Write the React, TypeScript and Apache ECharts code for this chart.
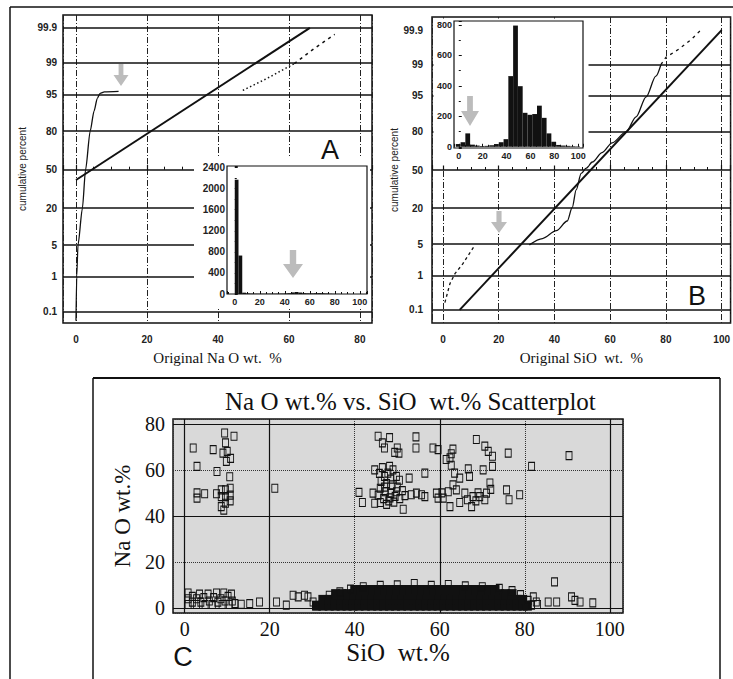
import React, { useEffect, useRef } from "react";
import * as echarts from "echarts";

// ---------------- data ----------------
const probTicks = [0.1, 1, 5, 20, 50, 80, 95, 99, 99.9];
const probGridA = [0.1, 1, 5, 20, 50, 80, 95, 99, 99.9];
const probGridB = [0.1, 1, 5, 20, 50, 80, 95, 99];

// Panel A: [Na2O wt.%, cumulative %]
const naFit = [[0, 41.1], [65.9, 99.9]];
const naCurve = [[0, 0.05], [0.2, 1], [0.56, 5], [1.8, 20], [2.7, 50], [4.0, 80], [5.1, 90], [6.0, 94], [6.8, 95.2], [8, 95.5], [12, 95.6]];
const naTailDots = [[47, 95.8], [54, 97.7], [61.5, 98.96]];
const naTailDash = [[61.5, 98.96], [64, 99.3], [67.2, 99.59], [70, 99.74], [72.9, 99.84]];

// Panel B: [SiO2 wt.%, cumulative %]
const siFit = [[6, 0.1], [100, 99.9]];
const siTailLow = [[0.7, 0.17], [2.5, 0.6], [4.3, 1.1], [7.1, 1.9], [11.4, 4.8]];
const siCurve = [[31, 4.9], [35.7, 6.5], [40.7, 9], [44.6, 13], [46.4, 20.5], [47.8, 33], [49.6, 47], [51.4, 51.6], [53.6, 57], [57.1, 65], [60.7, 72.6], [65.7, 80], [69.3, 88], [72.9, 94.7], [76.4, 98.1], [78.2, 99]];
const siTailHigh = [[78.2, 99], [80, 99.36], [84.6, 99.62], [89.3, 99.81], [92.5, 99.9]];

// Inset histograms
const histNaEdges = [0, 3, 6, 9, 12, 15, 18, 21, 24, 27, 30, 33, 36, 39, 42, 45, 48, 51, 54, 57, 60, 63, 66, 69, 72, 75, 78, 81, 84];
const histNaCounts = [2170, 730, 25, 12, 8, 6, 5, 5, 5, 6, 6, 7, 8, 10, 15, 30, 38, 28, 15, 12, 12, 15, 16, 14, 10, 6, 3, 2];
const histSiEdges = [-2.5, 1.5, 5.5, 9.5, 13.5, 17.5, 21.5, 25.5, 29.5, 33.5, 37.5, 41.5, 45.5, 49.5, 53.5, 57.5, 61.5, 65.5, 69.5, 73.5, 77.5, 81.5, 85.5, 89.5, 93.5, 97.5, 101.5];
const histSiCounts = [18, 30, 88, 14, 8, 5, 6, 10, 18, 30, 50, 464, 796, 398, 223, 210, 215, 270, 190, 88, 33, 12, 8, 6, 4, 3];

// Panel C scatter: [SiO2, Na2O]
const scatterUpperLeft = [[2.0, 69.5], [2.9, 61.5], [2.9, 50.0], [2.9, 47.7], [4.7, 49.6], [6.7, 68.8], [7.6, 59.3], [7.5, 49.6], [9.4, 76.0], [9.6, 71.7], [9.0, 67.3], [10.0, 68.0], [10.8, 65.0], [11.6, 74.6], [10.6, 57.0], [8.6, 51.3], [8.6, 48.4], [8.6, 44.0], [9.6, 51.3], [9.6, 48.4], [9.6, 45.5], [10.7, 52.0], [10.7, 49.0], [10.7, 46.5], [9.8, 63.7], [9.2, 42.5], [21.2, 52.0]];
const scatterUpperCenter = [[45.5, 74.6], [46.5, 71.7], [48.2, 74.0], [47.0, 69.5], [50.0, 69.5], [50.4, 67.3], [49.4, 67.6], [54.4, 74.3], [54.4, 69.5], [44.7, 60.0], [45.8, 58.5], [47.0, 57.2], [47.8, 58.6], [48.2, 61.5], [49.0, 60.0], [49.8, 57.2], [50.5, 55.5], [46.2, 55.0], [47.5, 54.0], [48.8, 53.5], [50.0, 52.5], [51.2, 51.0], [46.0, 52.0], [47.2, 50.5], [48.5, 49.8], [49.5, 48.5], [45.5, 49.0], [46.8, 47.5], [48.0, 46.5], [49.2, 46.0], [50.6, 47.5], [51.8, 48.8], [47.5, 45.0], [52.8, 56.4], [56.5, 58.6], [41.0, 50.2], [41.8, 45.8], [44.3, 49.9], [44.7, 45.5], [53.3, 49.2], [54.5, 49.9], [55.7, 49.2], [56.5, 48.4], [51.4, 42.9], [46.5, 61.0], [48.5, 56.0], [47.0, 52.5], [49.8, 50.5], [48.3, 47.8], [46.0, 45.8]];
const scatterUpperRight = [[58.4, 69.5], [59.6, 68.8], [62.7, 67.0], [63.1, 69.0], [62.4, 65.2], [63.5, 58.6], [64.7, 56.4], [66.7, 60.4], [67.0, 57.2], [68.6, 73.2], [70.6, 70.3], [71.4, 68.0], [72.4, 65.9], [70.2, 60.0], [72.4, 61.5], [76.1, 67.3], [71.8, 54.3], [75.7, 51.3], [76.3, 47.0], [78.8, 49.2], [81.6, 61.5], [90.4, 66.2], [59.6, 47.7], [60.8, 47.7], [62.4, 44.0], [64.7, 45.8], [67.5, 44.0], [63.1, 53.5], [63.9, 51.3], [65.9, 49.9], [67.8, 48.4], [69.4, 48.4], [70.6, 47.0], [71.0, 49.9], [59.2, 49.9], [62.0, 50.5], [66.5, 47.0], [68.5, 46.5], [69.0, 50.0], [72.0, 51.5], [60.5, 50.0], [62.7, 62.0], [61.5, 64.5]];
const scatterLowLeft = [[0.8, 1.5], [0.8, 4.0], [0.8, 6.5], [1.8, 2.5], [1.8, 5.0], [2.8, 1.5], [2.8, 4.0], [3.5, 6.0], [3.8, 2.5], [4.5, 4.5], [4.8, 1.5], [5.5, 6.0], [5.8, 3.0], [6.5, 1.5], [6.8, 4.5], [7.5, 6.5], [7.8, 2.5], [8.5, 4.0], [8.8, 1.5], [9.2, 6.5], [9.5, 3.0], [10.2, 5.0], [10.5, 1.5], [11.0, 6.0], [11.2, 3.0], [11.8, 1.9], [13.3, 1.6], [15.3, 1.9], [17.6, 2.6], [21.6, 2.6], [23.9, 1.2], [25.5, 5.5], [26.7, 4.8], [28.2, 5.5], [29.0, 4.8], [30.2, 2.6], [31.0, 1.0]];
const scatterLowRight = [[80.8, 3.3], [82.0, 4.8], [82.7, 2.6], [81.6, 1.2], [87.0, 11.3], [85.5, 2.6], [87.5, 2.6], [91.0, 4.8], [91.8, 3.3], [93.0, 2.6], [96.0, 2.2], [83.0, 1.5]];
const scatterBlobEdge = [[34, 5.5], [36.5, 7], [39, 8.2], [42, 9.2], [46, 9.8], [50, 10], [54, 10.6], [58, 9.8], [62, 10.2], [66, 9.6], [70, 9.2], [74, 8.5], [77, 7.5], [79, 5.8]];
// dense core of the low-Na2O cloud: [Na2O level, SiO2 values]
const blobRows: [number, number[]][] = [
  [1.0, [31, 32.5, 34, 35.4, 36.8, 38.2, 39.6, 41, 42.5, 44, 45.4, 46.8, 48.2, 49.6, 51, 52.5, 54, 55.4, 56.8, 58.2, 59.6, 61, 62.5, 64, 65.4, 66.8, 68.2, 69.6, 71, 72.5, 74, 75.4, 76.8, 78.2, 79.6, 80.6]],
  [3.5, [32.5, 34, 35.4, 36.8, 38.2, 39.6, 41, 42.5, 44, 45.4, 46.8, 48.2, 49.6, 51, 52.5, 54, 55.4, 56.8, 58.2, 59.6, 61, 62.5, 64, 65.4, 66.8, 68.2, 69.6, 71, 72.5, 74, 75.4, 76.8, 78.2, 79.5]],
  [6.0, [35.5, 37, 38.4, 39.8, 41.2, 42.6, 44, 45.5, 47, 48.4, 49.8, 51.2, 52.6, 54, 55.5, 57, 58.4, 59.8, 61.2, 62.6, 64, 65.5, 67, 68.4, 69.8, 71.2, 72.6, 74, 75.5, 77]],
  [7.8, [40, 41.5, 43, 44.4, 45.8, 47.2, 48.6, 50, 51.5, 53, 54.4, 55.8, 57.2, 58.6, 60, 61.5, 63, 64.4, 65.8, 67.2, 68.6, 70, 71.5, 73]],
];
const cSolidX = [0, 20, 60, 100];
const cSolidY = [0, 40, 80];

// ---------------- helpers ----------------
const SANS = '"Liberation Sans", Arial, sans-serif';
const SERIF = '"Liberation Serif", "Times New Roman", serif';
const INK = "#111";

function invNorm(p: number): number {
  const a = [-3.969683028665376e1, 2.209460984245205e2, -2.759285104469687e2, 1.38357751867269e2, -3.066479806614716e1, 2.506628277459239];
  const b = [-5.447609879822406e1, 1.615858368580409e2, -1.556989798598866e2, 6.680131188771972e1, -1.328068155288572e1];
  const c = [-7.784894002430293e-3, -3.223964580411365e-1, -2.400758277161838, -2.549732539343734, 4.374664141464968, 2.938163982698783];
  const d = [7.784695709041462e-3, 3.224671290700398e-1, 2.445134137142996, 3.754408661907416];
  const plow = 0.02425;
  if (p < plow) {
    const q = Math.sqrt(-2 * Math.log(p));
    return (((((c[0] * q + c[1]) * q + c[2]) * q + c[3]) * q + c[4]) * q + c[5]) / ((((d[0] * q + d[1]) * q + d[2]) * q + d[3]) * q + 1);
  }
  if (p > 1 - plow) {
    const q = Math.sqrt(-2 * Math.log(1 - p));
    return -(((((c[0] * q + c[1]) * q + c[2]) * q + c[3]) * q + c[4]) * q + c[5]) / ((((d[0] * q + d[1]) * q + d[2]) * q + d[3]) * q + 1);
  }
  const q = p - 0.5;
  const r = q * q;
  return ((((((a[0] * r + a[1]) * r + a[2]) * r + a[3]) * r + a[4]) * r + a[5]) * q) / (((((b[0] * r + b[1]) * r + b[2]) * r + b[3]) * r + b[4]) * r + 1);
}
const toZ = (pct: number) => invNorm(pct / 100);
const tz = (d: number[]) => [d[0], toZ(d[1])];
const probLabel = (v: number) => {
  const i = probTicks.findIndex((p) => Math.abs(toZ(p) - v) < 1e-6);
  return i >= 0 ? String(probTicks[i]) : "";
};
const histData = (edges: number[], counts: number[]) => counts.map((c, i) => [edges[i], edges[i + 1], c]);

const probYAxis = (gridIndex: number, min: number, max: number, margin: number, nameGap: number) => ({
  type: "value",
  gridIndex,
  min,
  max,
  axisLine: { show: false },
  axisTick: { show: false },
  splitLine: { show: false },
  axisLabel: {
    customValues: probTicks.map(toZ),
    formatter: (v: number) => probLabel(v),
    fontSize: 10,
    fontWeight: "bold",
    color: "#222",
    fontFamily: SANS,
    margin,
  },
  name: "cumulative percent",
  nameLocation: "middle",
  nameGap,
  nameTextStyle: { fontSize: 10, fontFamily: SANS, color: "#222" },
});

const mainXAxis = (gridIndex: number, min: number, max: number, name: string) => ({
  type: "value",
  gridIndex,
  min,
  max,
  axisLine: { show: false },
  axisTick: { show: true, inside: true, length: 5, lineStyle: { color: INK, width: 1.2 } },
  minorTick: { show: true, splitNumber: 4, length: 3, lineStyle: { color: INK, width: 1 } },
  axisLabel: { fontSize: 10, fontWeight: "bold", color: "#222", fontFamily: SANS, margin: 11 },
  splitLine: { show: true, lineStyle: { color: "#222", width: 1, type: [6, 2, 1, 2] } },
  name,
  nameLocation: "middle",
  nameGap: 27,
  nameTextStyle: { fontFamily: SERIF, fontSize: 15, color: INK },
});

const plainNum = (v: number) => String(v);

const insetXAxis = (gridIndex: number, min: number, max: number) => ({
  type: "value",
  gridIndex,
  min,
  max,
  z: 5,
  axisLine: { show: false },
  axisTick: { show: true, inside: true, length: 3, lineStyle: { color: INK } },
  minorTick: { show: true, splitNumber: 4, length: 2, lineStyle: { color: INK } },
  axisLabel: { fontSize: 9, fontWeight: "bold", color: "#222", fontFamily: SANS, margin: 3, formatter: plainNum },
  splitLine: { show: false },
});

const insetYAxis = (gridIndex: number, extra: any, fontSize: number) => ({
  type: "value",
  gridIndex,
  z: 5,
  axisLine: { show: false },
  axisTick: { show: true, inside: true, length: 3, lineStyle: { color: INK } },
  minorTick: { show: true, splitNumber: 2, length: 2, lineStyle: { color: INK } },
  axisLabel: { fontSize, fontWeight: "bold", color: "#222", fontFamily: SANS, margin: 2, formatter: plainNum },
  splitLine: { show: false },
  ...extra,
});

const histSeries = (idx: number, edges: number[], counts: number[]) => ({
  type: "custom",
  xAxisIndex: idx,
  yAxisIndex: idx,
  z: 6,
  data: histData(edges, counts),
  encode: { x: [0, 1], y: 2 },
  renderItem: (_p: any, api: any) => {
    const p0 = api.coord([api.value(0), api.value(2)]);
    const p1 = api.coord([api.value(1), 0]);
    return {
      type: "rect",
      shape: { x: p0[0], y: p0[1], width: p1[0] - p0[0], height: p1[1] - p0[1] },
      style: { fill: INK },
    };
  },
});

const arrow = (x: number, y: number, w: number, h: number) => {
  const sw = w * 0.16;
  const hy = h * 0.5;
  return {
    type: "polygon",
    x,
    y,
    z: 10,
    shape: { points: [[-sw, 0], [sw, 0], [sw, hy], [w / 2, hy], [0, h], [-w / 2, hy], [-sw, hy]] },
    style: { fill: "#bcbcbc" },
  };
};

const hLine = (x1: number, x2: number, y: number, w: number) => ({
  type: "line", z: 10, shape: { x1, y1: y, x2, y2: y }, style: { stroke: INK, lineWidth: w },
});
const vLine = (x: number, y1: number, y2: number, w: number) => ({
  type: "line", z: 10, shape: { x1: x, y1, x2: x, y2 }, style: { stroke: INK, lineWidth: w },
});

function buildOption(): any {
  const blobData: number[][] = [];
  blobRows.forEach(([y, xs]) => xs.forEach((x) => blobData.push([x, y])));
  const openData = [...scatterUpperLeft, ...scatterUpperCenter, ...scatterUpperRight, ...scatterLowLeft, ...scatterLowRight, ...scatterBlobEdge];

  const gridBase = { show: true, borderColor: INK, borderWidth: 1.5, backgroundColor: "#fff", containLabel: false };

  return {
    animation: false,
    backgroundColor: "#fff",
    title: {
      text: "Na O wt.% vs. SiO  wt.% Scatterplot",
      left: 220,
      top: 384,
      textStyle: { fontFamily: SERIF, fontSize: 25, fontWeight: "normal", color: INK },
    },
    grid: [
      { ...gridBase, left: 63, top: 15, width: 309, height: 308, z: 0 },
      { ...gridBase, borderWidth: 1.2, left: 227, top: 166, width: 140, height: 128, z: 4 },
      { ...gridBase, left: 432, top: 17, width: 300, height: 306, z: 0 },
      { ...gridBase, borderWidth: 1.2, left: 454, top: 21, width: 129, height: 127, z: 4 },
      { ...gridBase, left: 173, top: 419, width: 450, height: 194, backgroundColor: "#d9d9d9", z: 0 },
    ],
    xAxis: [
      mainXAxis(0, -3.66, 83.4, "Original Na O wt.  %"),
      insetXAxis(1, -6.2, 105.8),
      mainXAxis(2, -3.93, 103.2, "Original SiO  wt.  %"),
      insetXAxis(3, -4, 104),
      {
        type: "value",
        gridIndex: 4,
        min: -2.75,
        max: 103.1,
        axisLine: { show: false },
        axisTick: { show: false },
        axisLabel: { fontFamily: SERIF, fontSize: 20, color: INK, margin: 6 },
        splitLine: { show: true, lineStyle: { color: "#333", width: 1, type: "dotted" } },
        name: "SiO  wt.%",
        nameLocation: "middle",
        nameGap: 27,
        nameTextStyle: { fontFamily: SERIF, fontSize: 25, color: INK },
      },
    ],
    yAxis: [
      probYAxis(0, -3.34, 3.37, 6, 36),
      insetYAxis(1, { min: 0, max: 2430, interval: 400 }, 10),
      probYAxis(2, -3.38, 3.38, 9, 29),
      insetYAxis(3, { min: -8, max: 826, splitNumber: 4 }, 9),
      {
        type: "value",
        gridIndex: 4,
        min: -2.2,
        max: 82.1,
        axisLine: { show: false },
        axisTick: { show: false },
        axisLabel: { fontFamily: SERIF, fontSize: 20, color: INK, margin: 8 },
        splitLine: { show: true, lineStyle: { color: "#333", width: 1, type: "dotted" } },
        name: "Na O wt.%",
        nameLocation: "middle",
        nameGap: 34,
        nameTextStyle: { fontFamily: SERIF, fontSize: 23, color: INK },
      },
    ],
    series: [
      // Panel A
      {
        type: "line", xAxisIndex: 0, yAxisIndex: 0, z: 2, symbol: "none", data: naFit.map(tz),
        lineStyle: { color: INK, width: 2 },
        markLine: {
          silent: true, symbol: "none", z: 2, animation: false, label: { show: false },
          lineStyle: { color: INK, width: 1.6, type: "solid" },
          data: probGridA.map((p) => ({ yAxis: toZ(p) })),
        },
      },
      { type: "line", xAxisIndex: 0, yAxisIndex: 0, z: 2, symbol: "none", smooth: 0.25, smoothMonotone: "x", data: naCurve.map(tz), lineStyle: { color: INK, width: 1.3 } },
      { type: "line", xAxisIndex: 0, yAxisIndex: 0, z: 2, symbol: "none", data: naTailDots.map(tz), lineStyle: { color: INK, width: 1.5, type: [1.5, 2.5] } },
      { type: "line", xAxisIndex: 0, yAxisIndex: 0, z: 2, symbol: "none", data: naTailDash.map(tz), lineStyle: { color: INK, width: 1.5, type: [3, 4] } },
      // Panel B
      {
        type: "line", xAxisIndex: 2, yAxisIndex: 2, z: 2, symbol: "none", data: siFit.map(tz),
        lineStyle: { color: INK, width: 2 },
        markLine: {
          silent: true, symbol: "none", z: 2, animation: false, label: { show: false },
          lineStyle: { color: INK, width: 1.6, type: "solid" },
          data: probGridB.map((p) => ({ yAxis: toZ(p) })),
        },
      },
      { type: "line", xAxisIndex: 2, yAxisIndex: 2, z: 2, symbol: "none", data: siTailLow.map(tz), lineStyle: { color: INK, width: 1.3, type: [3, 3] } },
      { type: "line", xAxisIndex: 2, yAxisIndex: 2, z: 2, symbol: "none", smooth: 0.3, smoothMonotone: "x", data: siCurve.map(tz), lineStyle: { color: INK, width: 1.3 } },
      { type: "line", xAxisIndex: 2, yAxisIndex: 2, z: 2, symbol: "none", data: siTailHigh.map(tz), lineStyle: { color: INK, width: 1.3, type: [3, 4] } },
      // Insets
      histSeries(1, histNaEdges, histNaCounts),
      histSeries(3, histSiEdges, histSiCounts),
      // Panel C
      {
        type: "scatter", xAxisIndex: 4, yAxisIndex: 4, z: 2, symbol: "rect", symbolSize: [9, 10],
        data: blobData, itemStyle: { color: INK, opacity: 1 }, silent: true,
        markLine: {
          silent: true, symbol: "none", z: 1, animation: false, label: { show: false },
          lineStyle: { color: INK, width: 1.2, type: "solid" },
          data: [...cSolidX.map((x) => ({ xAxis: x })), ...cSolidY.map((y) => ({ yAxis: y }))],
        },
      },
      {
        type: "scatter", xAxisIndex: 4, yAxisIndex: 4, z: 3, symbol: "rect", symbolSize: [6, 8],
        data: openData, silent: true,
        itemStyle: { color: "rgba(0,0,0,0)", borderColor: INK, borderWidth: 1, opacity: 1 },
      },
    ],
    graphic: [
      // white panels behind the insets
      { type: "rect", z: 3, shape: { x: 194, y: 157, width: 176, height: 150 }, style: { fill: "#fff" } },
      { type: "rect", z: 3, shape: { x: 433.5, y: 18.5, width: 155, height: 147 }, style: { fill: "#fff" } },
      // figure frame
      hLine(10, 733, 7, 1.5),
      vLine(10, 7, 679, 1.5),
      hLine(93, 720, 378, 2),
      vLine(93, 378, 679, 1.5),
      vLine(720, 378, 679, 1.5),
      // arrows
      arrow(121, 64, 15, 22),
      arrow(499, 211, 16, 22),
      arrow(293, 250, 20, 28),
      arrow(470, 96, 18, 30),
      // panel letters
      { type: "text", z: 10, x: 330, y: 150, style: { text: "A", fontSize: 27, fontFamily: SANS, fill: INK, align: "center", verticalAlign: "middle" } },
      { type: "text", z: 10, x: 697, y: 296, style: { text: "B", fontSize: 27, fontFamily: SANS, fill: INK, align: "center", verticalAlign: "middle" } },
      { type: "text", z: 10, x: 183, y: 657, style: { text: "C", fontSize: 27, fontFamily: SANS, fill: INK, align: "center", verticalAlign: "middle" } },
    ],
  };
}

export default function App() {
  const ref = useRef<HTMLDivElement>(null);
  useEffect(() => {
    document.body.style.margin = "0";
    const chart = echarts.init(ref.current as HTMLDivElement, null, { renderer: "svg" });
    chart.setOption(buildOption());
    return () => chart.dispose();
  }, []);
  return <div ref={ref} style={{ position: "absolute", left: 0, top: 0, width: 733, height: 679 }} />;
}
